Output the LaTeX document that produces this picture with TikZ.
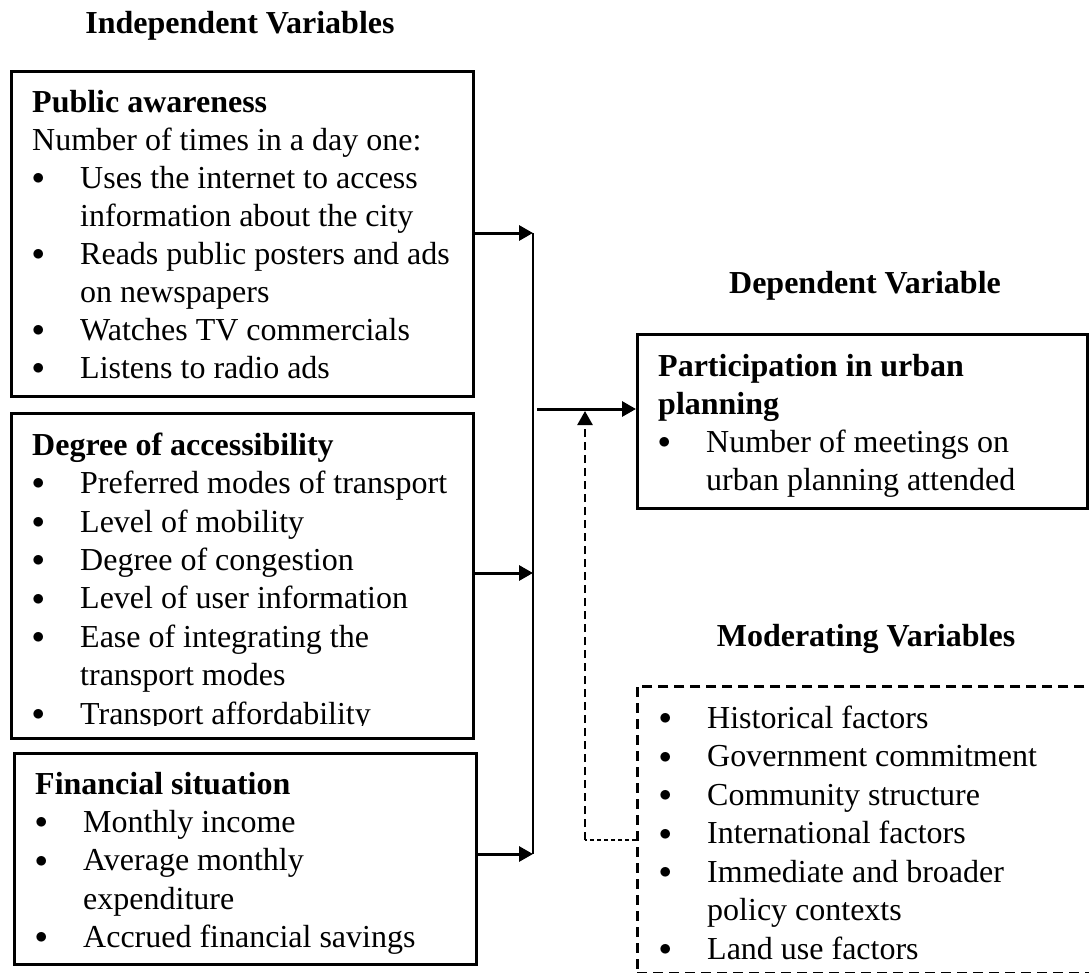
\documentclass[tikz,border=0pt]{standalone}
\usepackage{fontspec}
\setmainfont{Liberation Serif}
\usetikzlibrary{arrows.meta}
\newcommand\bl{\makebox[48pt][l]{\raisebox{3.7pt}{\fontsize{27}{30}\selectfont$\bullet$}}}
\newcommand\ind{\hspace*{48pt}}
\newcommand\fst{\rule{0pt}{24pt}}
\begin{document}
\begin{tikzpicture}[x=1pt,y=-1pt,
  boxs/.style={draw, line width=2.5pt, anchor=north west, inner sep=0pt},
  dbox/.style={draw, line width=2.5pt, dash pattern=on 10pt off 6pt, anchor=north west, inner sep=0pt},
  txt/.style={anchor=north west, inner sep=0pt, align=left},
  head/.style={anchor=base, inner sep=0pt, font=\fontsize{32}{38}\selectfont\bfseries},
  arr/.style={-{Triangle[length=14pt,width=15pt]}, line width=3pt},
  darr/.style={-{Triangle[length=14pt,width=15pt]}, line width=2.5pt, dash pattern=on 8pt off 5pt},
  dsmall/.style={line width=1.5pt, dash pattern=on 4pt off 3pt}]
\useasboundingbox (0,0) rectangle (1089,972);

% headings
\node[head] (hi) at (240,33) {Independent Variables};
\node[head] (hd) at (865,293) {Dependent Variable};
\node[head] (hm) at (866,646) {Moderating Variables};

% boxes
\node[boxs, minimum width=462pt, minimum height=325pt] (b1) at (10,70) {};
\node[boxs, minimum width=462pt, minimum height=325pt] (b2) at (10,412) {};
\node[boxs, minimum width=462pt, minimum height=211pt] (b3) at (13,752) {};
\node[boxs, minimum width=450pt, minimum height=174pt] (dep) at (636,333) {};
\node[dbox, minimum width=600pt, minimum height=287pt] (mod) at (636,685) {};

% texts
\node[txt, font=\fontsize{32}{38}\selectfont] (t1) at (32,88) {\fst\textbf{Public awareness}\\
Number of times in a day one:\\
\bl Uses the internet to access\\
\ind information about the city\\
\bl Reads public posters and ads\\
\ind on newspapers\\
\bl Watches TV commercials\\
\bl Listens to radio ads};

\begin{scope}
\clip (0,400) rectangle (480,725);
\node[txt, font=\fontsize{32}{38.4}\selectfont] (t2) at (32,431) {\fst\textbf{Degree of accessibility}\\
\bl Preferred modes of transport\\
\bl Level of mobility\\
\bl Degree of congestion\\
\bl Level of user information\\
\bl Ease of integrating the\\
\ind transport modes\\
\bl Transport affordability};
\end{scope}

\node[txt, font=\fontsize{32}{38.3}\selectfont] (t3) at (35,770) {\fst\textbf{Financial situation}\\
\bl Monthly income\\
\bl Average monthly\\
\ind expenditure\\
\bl Accrued financial savings};

\node[txt, font=\fontsize{32}{38}\selectfont] (t4) at (658,352) {\fst\textbf{Participation in urban}\\
\textbf{planning}\\
\bl Number of meetings on\\
\ind urban planning attended};

\node[txt, font=\fontsize{32}{38.5}\selectfont] (t5) at (659,704) {\fst\bl Historical factors\\
\bl Government commitment\\
\bl Community structure\\
\bl International factors\\
\bl Immediate and broader\\
\ind policy contexts\\
\bl Land use factors};

% connectors
\coordinate (v1) at (533,233);
\coordinate (v2) at (533,573);
\coordinate (v3) at (533,854);
\coordinate (j) at (537,409);
\coordinate (k) at (585,840);
\coordinate (kt) at (585,411);

\draw[line width=1.3pt] (v1) -- (v3);
\draw[arr] (b1.east |- v1) -- (v1);
\draw[arr] (b2.east |- v2) -- (v2);
\draw[arr] (b3.east |- v3) -- (v3);
\draw[arr] (j) -- (j -| dep.west);
\draw[dsmall] (mod.west |- k) -- (k);
\draw[darr] (k) -- (kt);
\end{tikzpicture}
\end{document}
